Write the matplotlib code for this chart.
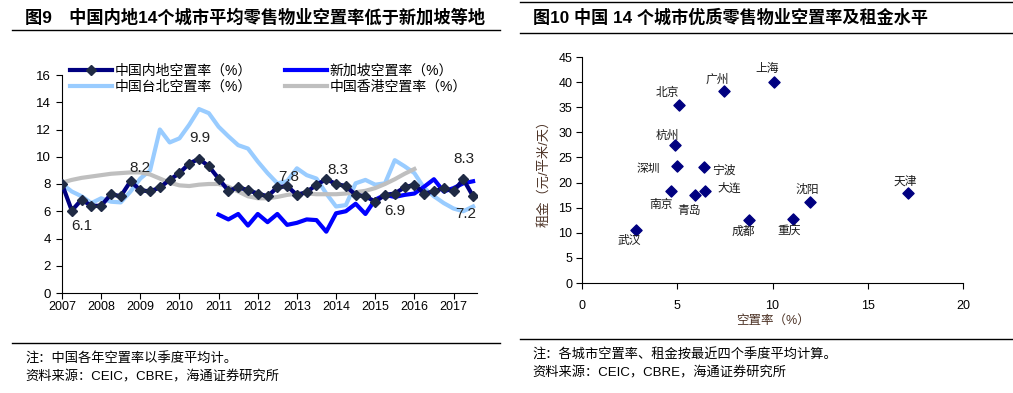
import matplotlib
matplotlib.use("Agg")
import matplotlib.pyplot as plt
from matplotlib.lines import Line2D
import numpy as np

plt.rcParams['font.family'] = ['Liberation Sans', 'Noto Sans CJK SC', 'DejaVu Sans']

# ---- left chart: quarterly vacancy rates (%) ----
mainland = [8.0, 6.05, 6.85, 6.4, 6.4, 7.25, 7.1, 8.2, 7.55, 7.45, 7.75, 8.3,
            8.8, 9.5, 9.85, 9.3, 8.4, 7.5, 7.75, 7.55, 7.3, 7.1, 7.75, 7.85,
            7.2, 7.4, 7.95, 8.35, 8.0, 7.85, 7.2, 7.1, 6.7, 7.2, 7.3, 7.75,
            7.95, 7.3, 7.45, 7.7, 7.45, 8.35, 7.1]
taipei = [8.0, 7.45, 7.1, 6.6, 6.95, 6.7, 6.65, 7.45, 8.4, 9.0, 12.0, 11.05,
          11.35, 12.35, 13.5, 13.2, 12.2, 11.5, 10.85, 10.6, 9.65, 8.8, 8.05, 8.2,
          9.15, 8.65, 8.4, 7.3, 6.35, 6.45, 8.05, 8.3, 7.95, 8.05, 9.75, 9.3,
          8.8, 7.7, 7.1, 6.6, 6.2, 6.0, 6.35]
singapore = [5.75, 5.4, 5.8, 4.95, 5.8, 5.2, 5.8, 5.0, 5.15, 5.4, 5.35, 4.5,
             5.85, 6.0, 6.55, 5.8, 6.85, 7.2, 7.05, 7.2, 7.3, 7.8, 8.35, 7.45,
             7.7, 8.05, 8.2]
hongkong = [8.1, 8.3, 8.45, 8.55, 8.65, 8.75, 8.8, 8.85, 8.85, 8.7, 8.4, 8.1,
            7.9, 7.85, 7.95, 8.0, 8.0, 7.8, 7.45, 7.1, 6.95, 6.95, 7.05, 7.2,
            7.3, 7.3, 7.25, 7.25, 7.25, 7.3, 7.4, 7.5, 7.7, 8.0, 8.35, 8.75, 9.1]
years = list(range(2007, 2018))
notes_left = [(2007.5, 4.95, '6.1'), (2009.0, 9.15, '8.2'), (2010.52, 11.4, '9.9'),
              (2012.8, 8.55, '7.8'), (2014.05, 9.05, '8.3'), (2015.5, 6.0, '6.9'),
              (2017.27, 9.8, '8.3'), (2017.3, 5.8, '7.2')]

# ---- right chart: city vacancy (%) vs rent (yuan/sqm/day) ----
cities = ['上海', '广州', '北京', '杭州', '深圳', '宁波', '南京',
          '青岛', '大连', '成都', '重庆', '沈阳', '天津', '武汉']
vacancy = [10.1, 7.45, 5.08, 4.87, 5.01, 6.38, 4.66, 5.91, 6.47, 8.76, 11.08, 11.97, 17.12, 2.86]
rent = [40.1, 38.3, 35.4, 27.4, 23.2, 23.0, 18.25, 17.45, 18.25, 12.5, 12.7, 16.1, 18.0, 10.55]
label_offsets = [(-5, 9), (-5, 8), (-8, 9), (-5, 7), (-21, -2), (15, -2), (-7, -10),
                 (-4, -11), (17, 2), (-4, -8), (-3, -8), (-2, 9), (-2, 8), (-5, -8)]

fig = plt.figure(figsize=(10.13, 3.93), dpi=100)

def hline(x0, x1, y):
    fig.add_artist(Line2D([x0 / 1013, x1 / 1013], [1 - y / 393, 1 - y / 393],
                          color='black', lw=1.0))

# titles and rules
fig.text(25 / 1013, 1 - 17 / 393, '图9　中国内地14个城市平均零售物业空置率低于新加坡等地',
         fontsize=12.4, fontweight='bold', va='center', ha='left')
fig.text(533 / 1013, 1 - 17 / 393, '图10 中国 14 个城市优质零售物业空置率及租金水平',
         fontsize=12.3, fontweight='bold', va='center', ha='left')
hline(12, 500, 30)
hline(520, 1013, 2)
hline(520, 1013, 33)
hline(12, 500, 343)
hline(520, 1013, 339)

fig.text(25 / 1013, 1 - 359 / 393, '注：中国各年空置率以季度平均计。', fontsize=9.5, va='center')
fig.text(25 / 1013, 1 - 377 / 393, '资料来源：CEIC，CBRE，海通证券研究所', fontsize=9.5, va='center')
fig.text(532 / 1013, 1 - 355 / 393, '注：各城市空置率、租金按最近四个季度平均计算。', fontsize=9.5, va='center')
fig.text(532 / 1013, 1 - 373 / 393, '资料来源：CEIC，CBRE，海通证券研究所', fontsize=9.5, va='center')

# ---- left axes ----
ax = fig.add_axes([62 / 1013, 1 - 293 / 393, (477 - 62) / 1013, (293 - 75) / 393])
xq = 2007 + np.arange(len(mainland)) / 4
xs = 2011 + np.arange(len(singapore)) / 4
xh = 2007 + np.arange(len(hongkong)) / 4

ax.plot(xq, taipei, color='#99ccff', lw=3, zorder=2)
ax.plot(xh, hongkong, color='#bfbfbf', lw=3, zorder=2)
ax.plot(xs, singapore, color='#0000ff', lw=3, zorder=3)
ax.plot(xq, mainland, color='#000080', lw=3, marker='D', markersize=5.5,
        markerfacecolor='#1f2a44', markeredgecolor='#1f2a44', zorder=4)

for x, y, t in notes_left:
    ax.text(x, y, t, fontsize=11, ha='center', va='center', color='#222222')

ax.set_xlim(2007, 2017.6)
ax.set_ylim(0, 16)
ax.set_xticks(years)
ax.set_yticks(range(0, 17, 2))
ax.tick_params(labelsize=9, direction='out', length=4, width=0.8, pad=2)
ax.tick_params(axis='y', labelsize=9.5, pad=4)
for s in ['top', 'right']:
    ax.spines[s].set_visible(False)

handles = [
    Line2D([], [], color='#000080', lw=3, marker='D', markersize=5.5,
           markerfacecolor='#1f2a44', markeredgecolor='#1f2a44'),
    Line2D([], [], color='#99ccff', lw=3),
    Line2D([], [], color='#0000ff', lw=3),
    Line2D([], [], color='#bfbfbf', lw=3),
]
labels = ['中国内地空置率（%）', '中国台北空置率（%）', '新加坡空置率（%）', '中国香港空置率（%）']
fig.legend(handles, labels, loc='upper left', bbox_to_anchor=(70 / 1013, 1 - 64 / 393),
           ncol=2, frameon=False, fontsize=10, handlelength=3, handletextpad=0.2,
           columnspacing=2.4, labelspacing=0.1, borderpad=0, borderaxespad=0)

# ---- right axes ----
ax2 = fig.add_axes([582 / 1013, 1 - 283 / 393, (963 - 582) / 1013, (283 - 57) / 393])
ax2.scatter(vacancy, rent, marker='D', s=32, color='#000080', zorder=3)
for name, x, y, (dx, dy) in zip(cities, vacancy, rent, label_offsets):
    ax2.annotate(name, (x, y), xytext=(dx, dy), textcoords='offset points',
                 ha='center', va='center', fontsize=8.5, color='#1a1a1a')
ax2.set_xlim(0, 20)
ax2.set_ylim(0, 45)
ax2.set_xticks(range(0, 21, 5))
ax2.set_yticks(range(0, 46, 5))
ax2.tick_params(labelsize=9, direction='out', length=4, width=0.8, pad=3)
ax2.tick_params(axis='x', pad=8)
for s in ['top', 'right']:
    ax2.spines[s].set_visible(False)
ax2.set_xlabel('空置率（%）', fontsize=9, color='#4d3326', labelpad=2)
ax2.set_ylabel('租金（元/平米/天）', fontsize=9.5, color='#4d3326', labelpad=6)

fig.savefig('out.png', dpi=100)
